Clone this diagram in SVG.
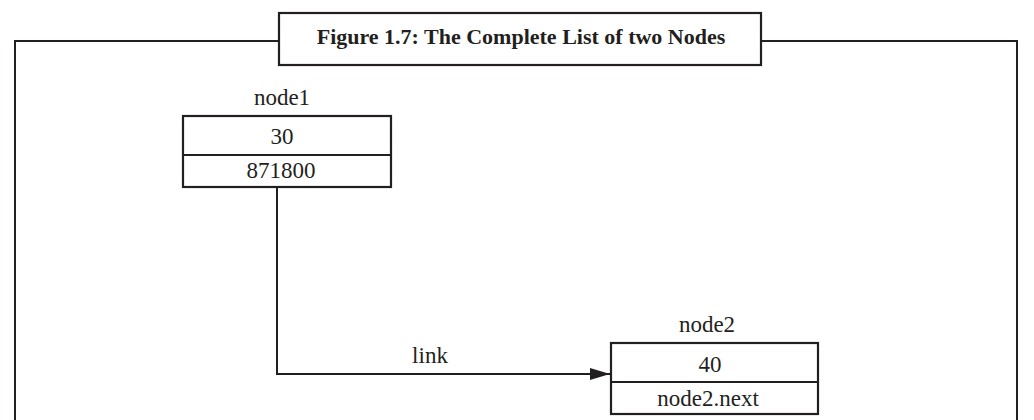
<svg xmlns="http://www.w3.org/2000/svg" width="1034" height="420" viewBox="0 0 1034 420">
  <style>
    .ln { fill: none; stroke: #231f20; stroke-width: 2; }
    .box { fill: #ffffff; stroke: #231f20; stroke-width: 2.2; }
    .t { font-family: "Liberation Serif", "Times New Roman", serif; font-size: 23px; fill: #231f20; text-anchor: middle; }
    .title { font-family: "Liberation Serif", "Times New Roman", serif; font-size: 22px; font-weight: bold; fill: #231f20; text-anchor: middle; }
  </style>
  <defs>
    <marker id="arrow" markerWidth="20" markerHeight="12" refX="20" refY="6" orient="auto" markerUnits="userSpaceOnUse">
      <path d="M0,0 L20,6 L0,12 Z" fill="#231f20"/>
    </marker>
  </defs>
  <rect width="1034" height="420" fill="#ffffff"/>
  <g id="frame">
    <path class="ln" d="M279,41 H15 V421 M761,41 H1017 V421"/>
  </g>
  <g id="title">
    <rect class="box" x="279" y="13" width="482" height="52"/>
    <text class="title" x="521" y="44">Figure 1.7: The Complete List of two Nodes</text>
  </g>
  <g id="connectors">
    <path class="ln" d="M277,187 V374 H610" marker-end="url(#arrow)"/>
    <text class="t" x="430" y="363">link</text>
  </g>
  <g id="node1">
    <text class="t" x="282" y="105">node1</text>
    <rect class="box" x="183" y="116" width="208" height="71"/>
    <line class="ln" x1="183" y1="155" x2="391" y2="155"/>
    <text class="t" x="282" y="144">30</text>
    <text class="t" x="281" y="178">871800</text>
  </g>
  <g id="node2">
    <text class="t" x="707" y="332">node2</text>
    <rect class="box" x="611" y="343" width="207" height="71"/>
    <line class="ln" x1="611" y1="382" x2="818" y2="382"/>
    <text class="t" x="710" y="372">40</text>
    <text class="t" x="708" y="406">node2.next</text>
  </g>
</svg>
